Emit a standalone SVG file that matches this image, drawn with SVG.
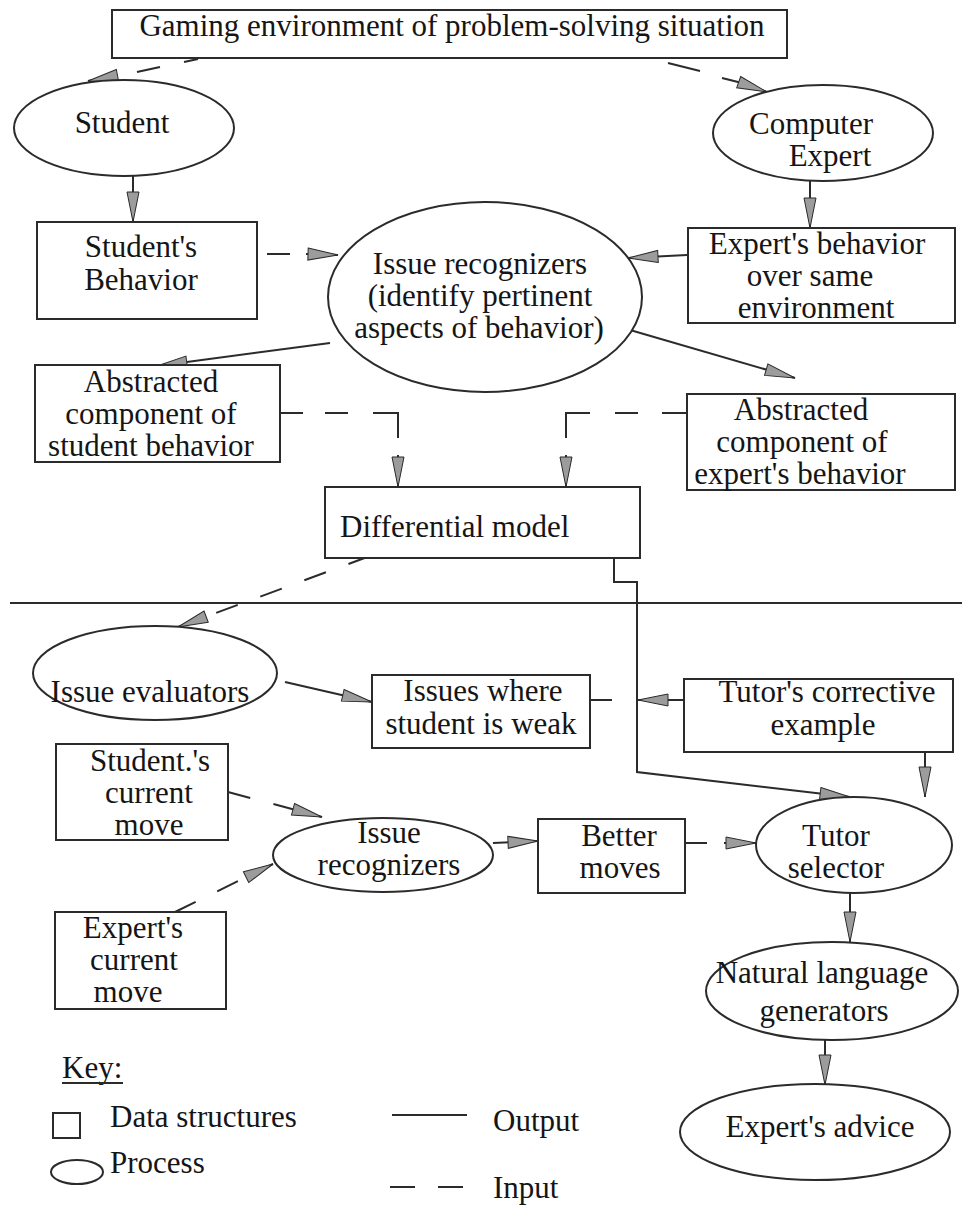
<svg xmlns="http://www.w3.org/2000/svg" width="962" height="1209" viewBox="0 0 962 1209">
  <defs>
    <style>
      .box { fill: #ffffff; stroke: #2b2b2b; stroke-width: 2; }
      .proc { fill: #ffffff; stroke: #2b2b2b; stroke-width: 2; }
      .lbl { font-family: "Liberation Serif", "Times New Roman", serif; font-size: 31px; fill: #151515; text-anchor: middle; }
      .lft { text-anchor: start; }
      .out { fill: none; stroke: #2b2b2b; stroke-width: 2; }
      .in { fill: none; stroke: #2b2b2b; stroke-width: 2; }
      .dash { stroke-dasharray: 23 24; }
      .arr { marker-end: url(#ah); }
    </style>
    <marker id="ah" markerUnits="userSpaceOnUse" markerWidth="34" markerHeight="16" refX="30" refY="6" orient="auto" overflow="visible">
      <path d="M0,0 L30,6 L0,12 Z" fill="#9c9c9c" stroke="#2b2b2b" stroke-width="1" stroke-dasharray="none"/>
    </marker>
  </defs>

  <rect width="962" height="1209" fill="#ffffff"/>

  <!-- divider between the diagnosis part and the tutoring part -->
  <g id="divider">
    <path class="out" d="M10 603 H962"/>
  </g>

  <!-- connectors -->
  <g id="connectors">
    <!-- environment to student / computer expert (input) -->
    <path class="in arr" d="M198 59 L184 62 M160 67 L137 72 M114 76 L88 81"/>
    <path class="in arr" d="M668 63 L700 71 M722 78 L742 83 M744 84 L767 92"/>
    <!-- producers to behaviours (output) -->
    <path class="out arr" d="M133 176 V222"/>
    <path class="out arr" d="M810 181 V228"/>
    <!-- behaviours into the issue recognizers -->
    <path class="in arr" d="M267 254 H290 M306 254 L338 255"/>
    <path class="out arr" d="M687 255 L628 258"/>
    <!-- issue recognizers to abstracted components -->
    <path class="out arr" d="M330 343 L157 366"/>
    <path class="out arr" d="M630 330 L795 378"/>
    <!-- abstracted components into the differential model -->
    <path class="in arr" d="M280 413 H303 M325 413 H348 M373 413 H398 V438 M398 455 V487"/>
    <path class="in arr" d="M687 413 H662 M638 413 H615 M590 413 H566 V438 M566 455 V487"/>
    <!-- differential model to issue evaluators -->
    <path class="in dash arr" d="M370 556 L178 627"/>
    <!-- differential model to tutor selector -->
    <path class="out arr" d="M614 558 V582 H637 V772 L850 797"/>
    <!-- issue evaluators to weak issues -->
    <path class="out arr" d="M285 682 L372 702"/>
    <path class="out" d="M590 700 H612"/>
    <path class="out arr" d="M684 700 H638"/>
    <!-- corrective example to tutor selector -->
    <path class="out arr" d="M925 752 V797"/>
    <!-- current moves into the second issue recognizers -->
    <path class="in dash arr" d="M228 792 L322 817"/>
    <path class="in dash arr" d="M175 912 L273 864"/>
    <path class="out arr" d="M493 843 L538 841"/>
    <path class="in arr" d="M685 843 H707 M724 843 H756"/>
    <!-- tutor selector down to advice -->
    <path class="out arr" d="M850 893 V942"/>
    <path class="out arr" d="M825 1040 V1085"/>
  </g>

  <g id="env">
    <rect class="box" x="112" y="10" width="675" height="48"/>
    <text class="lbl" x="452" y="36">Gaming environment of problem-solving situation</text>
  </g>

  <g id="student">
    <ellipse class="proc" cx="124" cy="128" rx="110" ry="48"/>
    <text class="lbl" x="122" y="133">Student</text>
  </g>

  <g id="computer-expert">
    <ellipse class="proc" cx="823" cy="133" rx="110" ry="48"/>
    <text class="lbl" x="811" y="134">Computer</text>
    <text class="lbl" x="830" y="166">Expert</text>
  </g>

  <g id="student-behavior">
    <rect class="box" x="37" y="222" width="220" height="97"/>
    <text class="lbl" x="141" y="257">Student's</text>
    <text class="lbl" x="141" y="290">Behavior</text>
  </g>

  <g id="issue-recognizers">
    <ellipse class="proc" cx="485" cy="297" rx="157" ry="95"/>
    <text class="lbl" x="480" y="274">Issue recognizers</text>
    <text class="lbl" x="480" y="306">(identify pertinent</text>
    <text class="lbl" x="479" y="338">aspects of behavior)</text>
  </g>

  <g id="expert-behavior">
    <rect class="box" x="688" y="228" width="267" height="95"/>
    <text class="lbl" x="817" y="254">Expert's behavior</text>
    <text class="lbl" x="810" y="286">over same</text>
    <text class="lbl" x="816" y="318">environment</text>
  </g>

  <g id="abstract-student">
    <rect class="box" x="35" y="365" width="245" height="97"/>
    <text class="lbl" x="151" y="392">Abstracted</text>
    <text class="lbl" x="151" y="424">component of</text>
    <text class="lbl" x="151" y="456">student behavior</text>
  </g>

  <g id="abstract-expert">
    <rect class="box" x="687" y="394" width="268" height="96"/>
    <text class="lbl" x="801" y="420">Abstracted</text>
    <text class="lbl" x="802" y="452">component of</text>
    <text class="lbl" x="800" y="484">expert's behavior</text>
  </g>

  <g id="differential-model">
    <rect class="box" x="325" y="487" width="315" height="71"/>
    <text class="lbl lft" x="340" y="537">Differential model</text>
  </g>

  <g id="issue-evaluators">
    <ellipse class="proc" cx="155" cy="673" rx="122" ry="47"/>
    <text class="lbl" x="150" y="702">Issue evaluators</text>
  </g>

  <g id="weak-issues">
    <rect class="box" x="372" y="675" width="218" height="73"/>
    <text class="lbl" x="483" y="701">Issues where</text>
    <text class="lbl" x="481" y="734">student is weak</text>
  </g>

  <g id="corrective-example">
    <rect class="box" x="684" y="679" width="269" height="73"/>
    <text class="lbl" x="827" y="702">Tutor's corrective</text>
    <text class="lbl" x="823" y="735">example</text>
  </g>

  <g id="student-move">
    <rect class="box" x="56" y="744" width="172" height="96"/>
    <text class="lbl" x="150" y="771">Student.'s</text>
    <text class="lbl" x="149" y="803">current</text>
    <text class="lbl" x="149" y="835">move</text>
  </g>

  <g id="expert-move">
    <rect class="box" x="55" y="912" width="171" height="97"/>
    <text class="lbl" x="133" y="938">Expert's</text>
    <text class="lbl" x="134" y="970">current</text>
    <text class="lbl" x="128" y="1002">move</text>
  </g>

  <g id="issue-recognizers-2">
    <ellipse class="proc" cx="383" cy="855" rx="110" ry="37"/>
    <text class="lbl" x="389" y="843">Issue</text>
    <text class="lbl" x="389" y="875">recognizers</text>
  </g>

  <g id="better-moves">
    <rect class="box" x="538" y="819" width="147" height="74"/>
    <text class="lbl" x="619" y="846">Better</text>
    <text class="lbl" x="620" y="878">moves</text>
  </g>

  <g id="tutor-selector">
    <ellipse class="proc" cx="854" cy="845" rx="98" ry="48"/>
    <text class="lbl" x="836" y="846">Tutor</text>
    <text class="lbl" x="836" y="878">selector</text>
  </g>

  <g id="nl-generators">
    <ellipse class="proc" cx="832" cy="991" rx="126" ry="49"/>
    <text class="lbl" x="822" y="983">Natural language</text>
    <text class="lbl" x="824" y="1021">generators</text>
  </g>

  <g id="expert-advice">
    <ellipse class="proc" cx="815" cy="1132" rx="135" ry="48"/>
    <text class="lbl" x="820" y="1137">Expert's advice</text>
  </g>

  <!-- legend -->
  <g id="key">
    <text class="lbl lft" x="62" y="1078">Key:</text>
    <path class="out" d="M62 1083 H123" stroke-width="1.5"/>
    <rect class="box" x="53" y="1113" width="27" height="25"/>
    <text class="lbl lft" x="110" y="1127">Data structures</text>
    <ellipse class="proc" cx="77" cy="1172" rx="26" ry="12"/>
    <text class="lbl lft" x="110" y="1173">Process</text>
    <path class="out" d="M392 1115 H467"/>
    <text class="lbl lft" x="493" y="1131">Output</text>
    <path class="in" d="M390 1187 H415 M438 1187 H463"/>
    <text class="lbl lft" x="493" y="1198">Input</text>
  </g>
</svg>
